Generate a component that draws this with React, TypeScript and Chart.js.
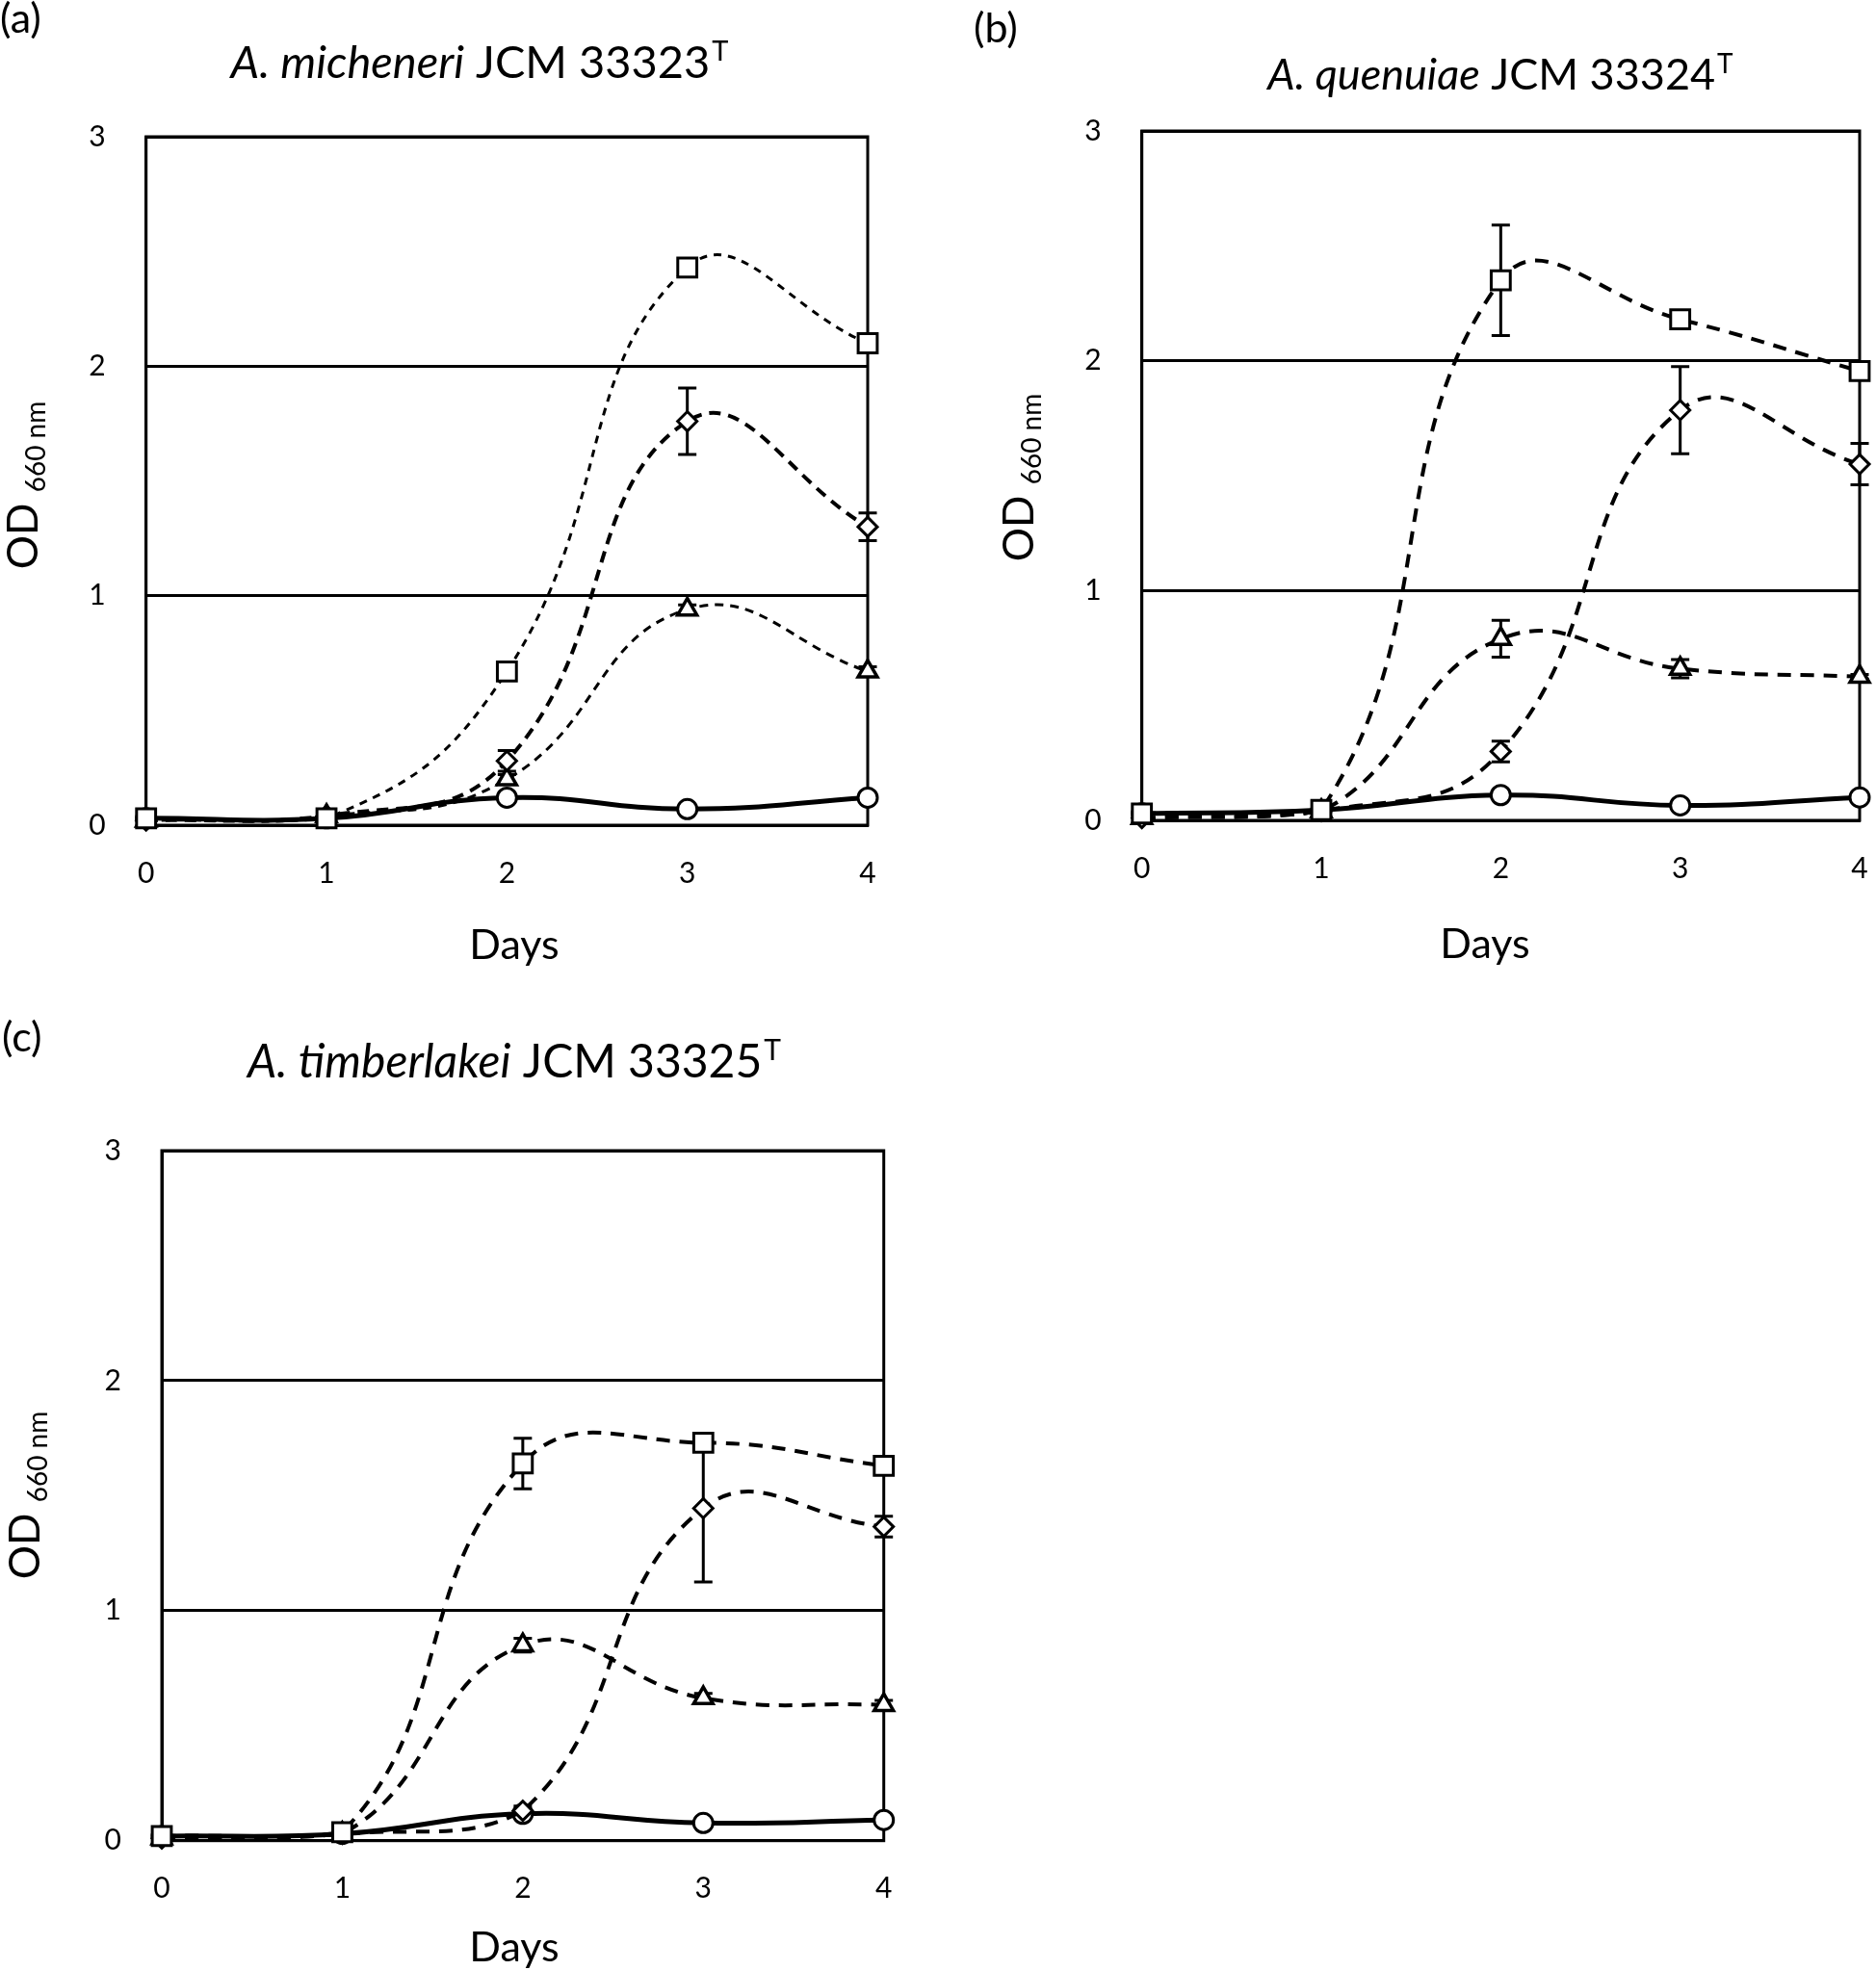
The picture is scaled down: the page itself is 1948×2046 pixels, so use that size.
import React, { useEffect, useRef } from "react";
import { Chart, registerables } from "chart.js";

Chart.register(...registerables);

// ---------------- data ----------------
const days = [0, 1, 2, 3, 4];
const dayTicks = [0, 1, 2, 3, 4];
const odTicks = [0, 1, 2, 3];

// (a) A. micheneri JCM 33323T
const aSquare = [0.03, 0.03, 0.67, 2.43, 2.1];
const aSquareErr = [0, 0, 0.01, 0.02, 0.03];
const aDiamond = [0.02, 0.04, 0.28, 1.76, 1.3];
const aDiamondErr = [0, 0, 0.045, 0.145, 0.06];
const aTriangle = [0.02, 0.04, 0.2, 0.94, 0.67];
const aTriangleErr = [0, 0, 0.02, 0.02, 0.02];
const aCircle = [0.03, 0.03, 0.12, 0.07, 0.12];
const aCircleErr = [0, 0, 0, 0, 0];

// (b) A. quenuiae JCM 33324T
const bSquare = [0.03, 0.045, 2.35, 2.18, 1.955];
const bSquareErr = [0, 0, 0.24, 0.02, 0.03];
const bDiamond = [0.01, 0.04, 0.3, 1.785, 1.55];
const bDiamondErr = [0, 0, 0.045, 0.19, 0.09];
const bTriangle = [0.01, 0.04, 0.79, 0.66, 0.625];
const bTriangleErr = [0, 0, 0.08, 0.04, 0.01];
const bCircle = [0.03, 0.045, 0.11, 0.065, 0.1];
const bCircleErr = [0, 0, 0, 0, 0];

// (c) A. timberlakei JCM 33325T
const cSquare = [0.02, 0.037, 1.64, 1.73, 1.63];
const cSquareErr = [0, 0, 0.11, 0.02, 0.02];
const cDiamond = [0.01, 0.03, 0.13, 1.445, 1.365];
const cDiamondErr = [0, 0, 0.02, 0.32, 0.045];
const cTriangle = [0.01, 0.03, 0.85, 0.62, 0.59];
const cTriangleErr = [0, 0, 0.03, 0.02, 0.02];
const cCircle = [0.02, 0.03, 0.117, 0.077, 0.09];
const cCircleErr = [0, 0, 0, 0, 0];

// ---------------- styles ----------------
const FONT = "Lato, 'Open Sans', 'DejaVu Sans', sans-serif";

type LineStyle = { dash: number[]; width: number };
const styleA: Record<string, LineStyle> = {
  square: { dash: [8, 7], width: 3 },
  diamond: { dash: [12, 8], width: 4 },
  triangle: { dash: [9, 7], width: 3 },
  circle: { dash: [], width: 5 },
};
const styleBC: Record<string, LineStyle> = {
  square: { dash: [14, 10], width: 4 },
  diamond: { dash: [14, 10], width: 4 },
  triangle: { dash: [14, 10], width: 4 },
  circle: { dash: [], width: 5 },
};
const markers: Record<string, { style: any; radius: number; border: number }> = {
  square: { style: "rect", radius: 14, border: 3 },
  diamond: { style: "rectRot", radius: 10, border: 3 },
  triangle: { style: "triangle", radius: 11.5, border: 3.5 },
  circle: { style: "circle", radius: 10, border: 3 },
};

type Series = { kind: string; values: number[]; errs: number[] };
type PanelDef = {
  key: string;
  canvas: { left: number; top: number; width: number; height: number };
  area: { left: number; right: number; top: number; bottom: number };
  label: string;
  labelPos: [number, number];
  titleItalic: string;
  titleRest: string;
  titleSup: string;
  titleSize: number;
  titlePos: [number, number];
  daysPos: [number, number];
  odPos: [number, number];
  styles: Record<string, LineStyle>;
  series: Series[];
};

const panels: PanelDef[] = [
  {
    key: "a",
    canvas: { left: 0, top: 0, width: 974, height: 1030 },
    area: { left: 151.7, right: 901, top: 142, bottom: 857 },
    label: "(a)",
    labelPos: [0, 34],
    titleItalic: "A. micheneri",
    titleRest: " JCM 33323",
    titleSup: "T",
    titleSize: 47,
    titlePos: [498, 81],
    daysPos: [534, 996],
    odPos: [39, 504],
    styles: styleA,
    series: [
      { kind: "square", values: aSquare, errs: aSquareErr },
      { kind: "diamond", values: aDiamond, errs: aDiamondErr },
      { kind: "triangle", values: aTriangle, errs: aTriangleErr },
      { kind: "circle", values: aCircle, errs: aCircleErr },
    ],
  },
  {
    key: "b",
    canvas: { left: 974, top: 0, width: 974, height: 1030 },
    area: { left: 1185.7, right: 1935.7, top: 136, bottom: 852 },
    label: "(b)",
    labelPos: [1011, 44],
    titleItalic: "A. quenuiae",
    titleRest: " JCM 33324",
    titleSup: "T",
    titleSize: 45,
    titlePos: [1558, 93],
    daysPos: [1542, 995],
    odPos: [1073, 496],
    styles: styleBC,
    series: [
      { kind: "square", values: bSquare, errs: bSquareErr },
      { kind: "diamond", values: bDiamond, errs: bDiamondErr },
      { kind: "triangle", values: bTriangle, errs: bTriangleErr },
      { kind: "circle", values: bCircle, errs: bCircleErr },
    ],
  },
  {
    key: "c",
    canvas: { left: 0, top: 1040, width: 974, height: 1006 },
    area: { left: 168, right: 917.7, top: 1195, bottom: 1911.7 },
    label: "(c)",
    labelPos: [2, 1092],
    titleItalic: "A. timberlakei",
    titleRest: " JCM 33325",
    titleSup: "T",
    titleSize: 48,
    titlePos: [534, 1119],
    daysPos: [534, 2037],
    odPos: [41, 1553],
    styles: styleBC,
    series: [
      { kind: "square", values: cSquare, errs: cSquareErr },
      { kind: "diamond", values: cDiamond, errs: cDiamondErr },
      { kind: "triangle", values: cTriangle, errs: cTriangleErr },
      { kind: "circle", values: cCircle, errs: cCircleErr },
    ],
  },
];

function Panel({ p }: { p: PanelDef }) {
  const ref = useRef<HTMLCanvasElement>(null);

  useEffect(() => {
    const canvas = ref.current!;
    const c = p.canvas;
    const L = p.area.left - c.left;
    const R = p.area.right - c.left;
    const T = p.area.top - c.top;
    const B = p.area.bottom - c.top;
    const ox = c.left;
    const oy = c.top;

    const datasets = p.series.map((s) => {
      const st = p.styles[s.kind];
      const mk = markers[s.kind];
      return {
        label: s.kind,
        data: days.map((d, i) => ({ x: d, y: s.values[i] })),
        borderColor: "#000",
        backgroundColor: "#fff",
        borderWidth: st.width,
        borderDash: st.dash,
        borderCapStyle: "butt" as const,
        tension: 0.45,
        fill: false,
        clip: false as any,
        pointStyle: mk.style,
        pointRadius: mk.radius,
        pointHoverRadius: mk.radius,
        pointBorderWidth: mk.border,
        pointBackgroundColor: "#fff",
        pointBorderColor: "#000",
      };
    });

    const framePlugin = {
      id: "frameAndErrors",
      beforeDatasetsDraw(chart: any) {
        const { ctx, chartArea, scales } = chart;
        ctx.save();
        ctx.strokeStyle = "#000";
        ctx.lineWidth = 3;
        ctx.strokeRect(
          chartArea.left,
          chartArea.top,
          chartArea.right - chartArea.left,
          chartArea.bottom - chartArea.top
        );
        // error bars
        ctx.lineWidth = 3;
        p.series.forEach((s) => {
          s.errs.forEach((e, i) => {
            if (!e) return;
            const x = scales.x.getPixelForValue(days[i]);
            const y1 = scales.y.getPixelForValue(s.values[i] + e);
            const y2 = scales.y.getPixelForValue(s.values[i] - e);
            ctx.beginPath();
            ctx.moveTo(x, y1);
            ctx.lineTo(x, y2);
            ctx.moveTo(x - 9.5, y1);
            ctx.lineTo(x + 9.5, y1);
            ctx.moveTo(x - 9.5, y2);
            ctx.lineTo(x + 9.5, y2);
            ctx.stroke();
          });
        });
        ctx.restore();
      },
    };

    const textPlugin = {
      id: "panelTexts",
      afterDraw(chart: any) {
        const { ctx } = chart;
        ctx.save();
        ctx.fillStyle = "#000";
        ctx.textBaseline = "alphabetic";

        // panel label
        ctx.font = `43px ${FONT}`;
        ctx.textAlign = "left";
        ctx.fillText(p.label, p.labelPos[0] - ox, p.labelPos[1] - oy);

        // title with italic part and superscript
        const ts = p.titleSize;
        const fi = `italic ${ts}px ${FONT}`;
        const fn = `${ts}px ${FONT}`;
        const fs = `${Math.round(ts * 0.62)}px ${FONT}`;
        ctx.font = fi;
        const wi = ctx.measureText(p.titleItalic).width;
        ctx.font = fn;
        const wn = ctx.measureText(p.titleRest).width;
        ctx.font = fs;
        const ws = ctx.measureText(p.titleSup).width;
        let tx = p.titlePos[0] - ox - (wi + wn + ws + 2) / 2;
        const ty = p.titlePos[1] - oy;
        ctx.font = fi;
        ctx.fillText(p.titleItalic, tx, ty);
        tx += wi;
        ctx.font = fn;
        ctx.fillText(p.titleRest, tx, ty);
        tx += wn + 2;
        ctx.font = fs;
        ctx.fillText(p.titleSup, tx, ty - ts * 0.38);

        // x axis title
        ctx.font = `43px ${FONT}`;
        ctx.textAlign = "center";
        ctx.fillText("Days", p.daysPos[0] - ox, p.daysPos[1] - oy);

        // y axis title, rotated
        ctx.translate(p.odPos[0] - ox, p.odPos[1] - oy);
        ctx.rotate(-Math.PI / 2);
        const f1 = `44px ${FONT}`;
        const f2 = `28px ${FONT}`;
        ctx.font = f1;
        const w1 = ctx.measureText("OD ").width;
        ctx.font = f2;
        const w2 = ctx.measureText("660 nm").width;
        let lx = -(w1 + w2) / 2;
        ctx.textAlign = "left";
        ctx.font = f1;
        ctx.fillText("OD ", lx, 0);
        lx += w1;
        ctx.font = f2;
        ctx.fillText("660 nm", lx, 8);
        ctx.restore();
      },
    };

    const chart = new Chart(canvas, {
      type: "line",
      data: { datasets: datasets as any },
      options: {
        animation: false,
        responsive: false,
        devicePixelRatio: 1,
        events: [],
        layout: {
          padding: { left: 0, top: T, right: c.width - R, bottom: 0 },
        },
        plugins: {
          legend: { display: false },
          tooltip: { enabled: false },
          title: { display: false },
        },
        scales: {
          x: {
            type: "linear",
            min: 0,
            max: 4,
            afterBuildTicks: (s: any) => {
              s.ticks = dayTicks.map((v) => ({ value: v }));
            },
            afterFit: (s: any) => {
              s.height = c.height - B;
              s.paddingLeft = 0;
              s.paddingRight = 0;
            },
            grid: { display: false, drawTicks: false },
            border: { display: true, color: "#000", width: 3 },
            ticks: {
              color: "#000",
              padding: 32,
              maxRotation: 0,
              font: { family: FONT, size: 30 },
            },
          },
          y: {
            type: "linear",
            min: 0,
            max: 3,
            afterBuildTicks: (s: any) => {
              s.ticks = odTicks.map((v) => ({ value: v }));
            },
            afterFit: (s: any) => {
              s.width = L;
              s.paddingTop = 0;
              s.paddingBottom = 0;
            },
            grid: { display: true, color: "#000", lineWidth: 3, drawTicks: false },
            border: { display: true, color: "#000", width: 3 },
            ticks: {
              color: "#000",
              padding: 42,
              font: { family: FONT, size: 30 },
            },
          },
        },
      },
      plugins: [framePlugin, textPlugin],
    });
    return () => chart.destroy();
  }, [p]);

  return (
    <canvas
      ref={ref}
      width={p.canvas.width}
      height={p.canvas.height}
      style={{
        position: "absolute",
        left: p.canvas.left,
        top: p.canvas.top,
        width: p.canvas.width,
        height: p.canvas.height,
      }}
    />
  );
}

export default function App() {
  return (
    <div
      style={{
        position: "absolute",
        left: 0,
        top: 0,
        width: 1948,
        height: 2046,
        background: "#fff",
        overflow: "hidden",
      }}
    >
      {panels.map((p) => (
        <Panel key={p.key} p={p} />
      ))}
    </div>
  );
}
